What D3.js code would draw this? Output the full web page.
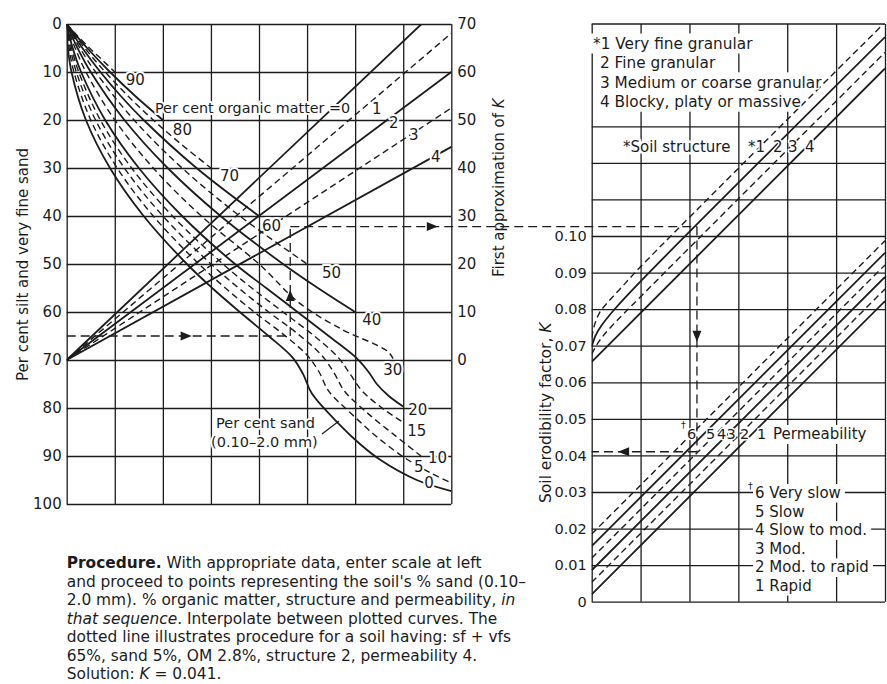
<!DOCTYPE html>
<html><head><meta charset="utf-8">
<script src="https://cdn.jsdelivr.net/npm/d3@7"></script>
<style>
body{margin:0;background:#fff;}
svg text{font-family:"DejaVu Sans",sans-serif;fill:#1c1c1c;}
</style></head><body>
<svg id="c" width="887" height="684"></svg>
<script>
// ---------------- DATA ----------------
const siltTicks = [0,10,20,30,40,50,60,70,80,90,100];
const k1Ticks = [0,10,20,30,40,50,60,70];
const kTicks = [0,0.01,0.02,0.03,0.04,0.05,0.06,0.07,0.08,0.09,0.10];
const kGrid = [0,0.01,0.02,0.03,0.04,0.05,0.06,0.07,0.08,0.09,0.10,0.11,0.12,0.13];
const leftColumns = [0,1,2,3,4,5,6,7,8];
const rightColumns = [0,1,2,3,4,5,6];

// Per cent sand curves: [column, per cent silt + vfs]
const sandValues = [90,80,70,60,50,40,30,20,15,10,5,0];
const sand90 = [[0,0],[0.18,2],[0.475,5],[0.74,7.5],[1.0,10]];
const sand80 = [[0,0],[0.164,2],[0.425,5],[0.9,10],[1.425,15],[2.0,20]];
const sand70 = [[0,0],[0.181,2.5],[0.375,5],[0.8,10],[1.275,15],[1.8,20],[2.375,25],[3.0,30]];
const sand60 = [[0,0],[0.156,2.5],[0.325,5],[0.7,10],[1.125,15],[1.6,20],[2.7,30],[4.0,40]];
const sand50 = [[0,0],[0.131,2.5],[0.275,5],[0.6,10],[1.4,20],[2.4,30],[3.6,40],[5.0,50]];
const sand40 = [[0,0],[0.106,2.5],[0.225,5],[0.5,10],[1.2,20],[2.1,30],[3.2,40],[4.5,50],[5.225,55],[6.0,60]];
const sand30 = [[0,0],[0.081,2.5],[0.175,5],[0.4,10],[1.0,20],[1.8,30],[2.8,40],[4.0,50],[4.85,58.2],[5.75,63.75],[6.45,66.9],[6.69,68.3],[6.79,69.7]];
const sand20 = [[0,0],[0.056,2.5],[0.125,5],[0.3,10],[0.8,20],[1.5,30],[2.4,40],[3.5,50],[4.15,55],[4.8,60],[5.45,65],[6.03,69.6],[6.28,72.5],[6.45,75],[6.7,77.5],[7.0,79.7]];
const sand15 = [[0,0],[0.044,2.5],[0.1,5],[0.25,10],[0.7,20],[1.35,30],[2.2,40],[3.25,50],[3.85,55],[4.5,60],[5.15,65],[5.65,69.5],[5.9,73],[6.15,76.5],[6.6,80.3],[7.0,83]];
const sand10 = [[0,0],[0.031,2.5],[0.075,5],[0.2,10],[0.6,20],[1.2,30],[2.0,40],[3.0,50],[3.575,55],[4.2,60],[4.8,64.5],[5.3,69],[5.55,72.5],[5.78,76.5],[6.25,81],[6.8,85.5],[7.37,90]];
const sand5 = [[0,0],[0.019,2.5],[0.05,5],[0.15,10],[0.5,20],[1.05,30],[1.8,40],[2.75,50],[3.3,55],[3.9,60],[4.55,65],[5.0,69],[5.25,72.5],[5.45,76.5],[5.9,81],[6.45,86],[7.05,90.5],[7.6,93.7],[8.0,95.6]];
const sand0 = [[0,0],[0.025,5],[0.1,10],[0.4,20],[0.9,30],[1.6,40],[2.5,50],[3.025,55],[3.6,60],[4.2,65],[4.7,69.5],[4.92,73],[5.1,77],[5.68,83.5],[6.1,87.5],[6.52,90.8],[7.28,95],[8.0,97.3]];
const sandCurves = [sand90,sand80,sand70,sand60,sand50,sand40,sand30,sand20,sand15,sand10,sand5,sand0];

// Per cent organic matter lines: [column, silt-scale level]
const omValues = [0,1,2,3,4];
const omOrigin = [0,70];
const omEnds = [[7.38,0],[8,1.94],[8,10],[8,17.5],[8,25.6]];

// Soil structure curves: [column, K]
const structureValues = [1,2,3,4];
const structure1 = [[0,0.0722],[0.06,0.0758],[0.16,0.0790],[0.35,0.0822],[0.6,0.0858],[1.0,0.0916],[6,0.1584]];
const structure2 = [[0,0.0697],[0.08,0.0728],[0.2,0.0755],[0.45,0.0797],[1.0,0.0876],[6,0.1544]];
const structure3 = [[0,0.0677],[0.15,0.0712],[0.4,0.0752],[1.0,0.0834],[6,0.1502]];
const structure4 = [[0,0.0656],[6,0.1458]];
const structureCurves = [structure1,structure2,structure3,structure4];

// Permeability lines: [column, K]
const permeabilityValues = [6,5,4,3,2,1];
const permeability6 = [[0,0.0185],[6,0.0987]];
const permeability5 = [[0,0.0152],[6,0.0954]];
const permeability4 = [[0,0.0119],[6,0.0921]];
const permeability3 = [[0,0.0086],[6,0.0888]];
const permeability2 = [[0,0.0053],[6,0.0855]];
const permeability1 = [[0,0.0020],[6,0.0822]];
const permeabilityCurves = [permeability6,permeability5,permeability4,permeability3,permeability2,permeability1];

// Worked example (dotted path)
const exampleSilt = 65, exampleColumn = 4.65, exampleK1 = 27.8, exampleStructureColumn = 2.153, exampleK = 0.041;

const structureLegend = ["*1 Very fine granular","2 Fine granular","3 Medium or coarse granular","4 Blocky, platy or massive"];
const permeabilityLegend = ["6 Very slow","5 Slow","4 Slow to mod.","3 Mod.","2 Mod. to rapid","1 Rapid"];

// ---------------- LAYOUT ----------------
const svg = d3.select("#c");
const xL = d3.scaleLinear().domain([0,8]).range([66.7,451.3]);
const yL = d3.scaleLinear().domain([0,100]).range([24,504]);
const yK1 = d3.scaleLinear().domain([0,70]).range([360,24]);
const xR = d3.scaleLinear().domain([0,6]).range([591.7,885]);
const yR = d3.scaleLinear().domain([0,0.10]).range([601.7,236]);
const topY = 24;
const INK = "#1c1c1c";
const FONT = '"DejaVu Sans",sans-serif';

const defs = svg.append("defs");
defs.append("clipPath").attr("id","clipL").append("rect")
  .attr("x",xL(0)).attr("y",yL(0)).attr("width",xL(8)-xL(0)).attr("height",yL(100)-yL(0));
defs.append("clipPath").attr("id","clipR").append("rect")
  .attr("x",xR(0)).attr("y",topY).attr("width",xR(6)-xR(0)).attr("height",yR(0)-topY);

function styleAxis(g, size){
  g.select(".domain").remove();
  g.selectAll("line").attr("stroke",INK).attr("stroke-width",1.3);
  g.selectAll("text").attr("font-size",size).attr("fill",INK).attr("font-family",FONT);
}

// ---- left panel grid
svg.append("g").attr("transform",`translate(${xL(0)},0)`)
  .call(d3.axisLeft(yL).tickValues(siltTicks).tickSize(-(xL(8)-xL(0))).tickPadding(5))
  .call(g=>styleAxis(g,15));
svg.append("g").attr("transform",`translate(0,${yL(100)})`)
  .call(d3.axisBottom(xL).tickValues(leftColumns).tickSize(-(yL(100)-yL(0))).tickFormat(""))
  .call(g=>styleAxis(g,15));
svg.append("g").attr("transform",`translate(${xL(8)},0)`)
  .call(d3.axisRight(yK1).tickValues(k1Ticks).tickSize(0).tickPadding(6))
  .call(g=>styleAxis(g,15));

// ---- right panel grid
svg.append("g").attr("transform",`translate(${xR(0)},0)`)
  .call(d3.axisLeft(yR).tickValues(kGrid).tickSize(-(xR(6)-xR(0))).tickFormat(""))
  .call(g=>styleAxis(g,15));
svg.append("g").attr("transform",`translate(${xR(0)},0)`)
  .call(d3.axisLeft(yR).tickValues(kTicks).tickSize(0).tickPadding(5)
        .tickFormat(d=> d===0 ? "0" : d3.format(".2f")(d)))
  .call(g=>styleAxis(g,14.5));
svg.append("g").attr("transform",`translate(0,${yR(0)})`)
  .call(d3.axisBottom(xR).tickValues(rightColumns).tickSize(-(yR(0)-topY)).tickFormat(""))
  .call(g=>styleAxis(g,15));
svg.append("line").attr("x1",xR(0)).attr("x2",xR(6)).attr("y1",topY).attr("y2",topY)
  .attr("stroke",INK).attr("stroke-width",1.3);

// background layer for legend boxes (below curves)
const bgLayer = svg.append("g");

// ---- curves
const lineL = d3.line().x(d=>xL(d[0])).y(d=>yL(d[1])).curve(d3.curveCatmullRom.alpha(0.5));
const lineR = d3.line().x(d=>xR(d[0])).y(d=>yR(d[1])).curve(d3.curveCatmullRom.alpha(0.5));
const solidW = 1.8, dashW = 1.4, dashArr = "6.5,4";

const gL = svg.append("g").attr("clip-path","url(#clipL)");
sandCurves.forEach((c,i)=>{
  const solid = sandValues[i] % 20 === 0;
  gL.append("path").attr("d",lineL(c)).attr("fill","none").attr("stroke",INK)
    .attr("stroke-width",solid?solidW:dashW).attr("stroke-dasharray",solid?null:dashArr);
});
omValues.forEach((v,i)=>{
  const solid = v % 2 === 0;
  gL.append("path").attr("d",d3.line().x(d=>xL(d[0])).y(d=>yL(d[1]))([omOrigin,omEnds[i]]))
    .attr("fill","none").attr("stroke",INK)
    .attr("stroke-width",solid?solidW:dashW).attr("stroke-dasharray",solid?null:dashArr);
});

const gR = svg.append("g").attr("clip-path","url(#clipR)");
structureCurves.forEach((c,i)=>{
  const solid = structureValues[i] % 2 === 0;
  gR.append("path").attr("d",lineR(c)).attr("fill","none").attr("stroke",INK)
    .attr("stroke-width",solid?solidW:dashW).attr("stroke-dasharray",solid?null:dashArr);
});
permeabilityCurves.forEach((c,i)=>{
  const solid = permeabilityValues[i] % 2 === 1;
  gR.append("path").attr("d",lineR(c)).attr("fill","none").attr("stroke",INK)
    .attr("stroke-width",solid?solidW:dashW).attr("stroke-dasharray",solid?null:dashArr);
});

// ---- text helper with white halo
function label(x,y,str,opts={}){
  const t = svg.append("text").attr("x",x).attr("y",y)
    .attr("font-size",opts.size||15).attr("fill",INK).attr("font-family",FONT)
    .attr("text-anchor",opts.anchor||"start");
  if(opts.halo!==false){
    t.attr("stroke","#fff").attr("stroke-width",opts.haloW||5)
     .attr("stroke-linejoin","round").attr("paint-order","stroke");
  }
  if(opts.italic) t.attr("font-style","italic");
  if(opts.bold) t.attr("font-weight","bold");
  if(opts.rotate) t.attr("transform",`rotate(${opts.rotate},${x},${y})`);
  t.text(str);
  return t;
}
function boxBehind(t, top, bottom, padL, padR){
  const b = t.node().getBBox();
  bgLayer.append("rect").attr("x",b.x-padL).attr("width",b.width+padL+padR)
    .attr("y",+t.attr("y")-top).attr("height",top+bottom).attr("fill","#fff");
}

// sand labels
const sandLabelOffsets = {90:[-1,11,13],80:[-1,10,15],70:[-1,9,13],60:[-1,3,15],50:[-1,15,14],40:[-1,7,13],
  30:[-1,-10,16],20:[-1,5,8],15:[-1,4,14],10:[-1,7,7],5:[17,-18,-2],0:[-1,-27,-3]};
sandValues.forEach((v,i)=>{
  const o = sandLabelOffsets[v];
  const p = o[0] < 0 ? sandCurves[i][sandCurves[i].length-1] : sandCurves[i][o[0]];
  label(xL(p[0])+o[1], yL(p[1])+o[2], String(v), {size:15, haloW:4});
});
label(216,428,"Per cent sand",{size:14.5,haloW:4});
label(211,447,"(0.10–2.0 mm)",{size:14.5,haloW:4});
svg.append("line").attr("x1",322).attr("y1",434).attr("x2",339).attr("y2",421)
  .attr("stroke",INK).attr("stroke-width",1.2);

// OM labels
label(155,113,"Per cent organic matter =0",{size:14.3,haloW:4});
label(372,114,"1",{size:15,haloW:4});
label(389,128,"2",{size:15,haloW:4});
label(409,140,"3",{size:15,haloW:4});
label(431,162,"4",{size:15,haloW:4});

// axis titles
label(28,381,"Per cent silt and very fine sand",{size:15,rotate:-90,halo:false});
const ft = label(504,277,"First approximation of ",{size:15,rotate:-90,halo:false});
ft.append("tspan").attr("font-style","italic").text("K");
const st = label(551,503,"Soil erodibility factor, ",{size:15.5,rotate:-90,halo:false});
st.append("tspan").attr("font-style","italic").text("K");

// structure legend
structureLegend.forEach((s,i)=>{
  const t = label(i===0?593:600, 49+i*19.4, s, {size:15.3, haloW:3});
  boxBehind(t, 15.5, 4.5, 2, 3);
});
label(623,152,"*Soil structure",{size:15,haloW:5});
label(748,152,"*1",{size:15,haloW:3});
label(773,152,"2",{size:15,haloW:3});
label(788,152,"3",{size:15,haloW:3});
label(805,152,"4",{size:15,haloW:3});

// permeability labels
const permLabelX = [687,706,717,726.5,740,757];
permeabilityValues.forEach((v,i)=> label(permLabelX[i],439,String(v),{size:14.5,haloW:3}));
label(681,428,"†",{size:9.5,haloW:2});
const pl = label(773,439,"Permeability",{size:15,haloW:4});
boxBehind(pl, 14, 5, 1, 2);
permeabilityLegend.forEach((s,i)=>{
  const t = label(755, 498+i*18.6, s, {size:15, haloW:3});
  boxBehind(t, 14, 4.6, 2, 4);
});
label(748,489,"†",{size:9.5,haloW:2});

// ---- worked example dashed path with arrows
const exDash = "9,5";
function dashed(x1,y1,x2,y2){
  svg.append("line").attr("x1",x1).attr("y1",y1).attr("x2",x2).attr("y2",y2)
    .attr("stroke",INK).attr("stroke-width",1.3).attr("stroke-dasharray",exDash);
}
function arrowHead(x,y,dir){
  const L=11,H=4.5; let p;
  if(dir==="right") p=[[x,y],[x-L,y-H],[x-L,y+H]];
  if(dir==="left") p=[[x,y],[x+L,y-H],[x+L,y+H]];
  if(dir==="up") p=[[x,y],[x-H,y+L],[x+H,y+L]];
  if(dir==="down") p=[[x,y],[x-H,y-L],[x+H,y-L]];
  svg.append("path").attr("d",d3.line()(p)+"Z").attr("fill",INK);
}
const ex1y = yL(exampleSilt), ex1x = xL(exampleColumn), ex2y = yK1(exampleK1);
const ex3x = xR(exampleStructureColumn), ex4y = yR(exampleK);
dashed(xL(0),ex1y,ex1x,ex1y);
dashed(ex1x,ex1y,ex1x,ex2y);
dashed(ex1x,ex2y,ex3x,ex2y);
dashed(ex3x,ex2y,ex3x,ex4y);
dashed(ex3x,ex4y,xR(0),ex4y);
arrowHead(xL(2.6),ex1y,"right");
arrowHead(ex1x,yL(55.4),"up");
arrowHead(xL(7.72),ex2y,"right");
arrowHead(ex3x,yR(0.0711),"down");
arrowHead(xR(0.54),ex4y,"left");

// ---- procedure text
const procLines = [
  [["Procedure.","b"],[" With appropriate data, enter scale at left",""]],
  [["and proceed to points representing the soil's % sand (0.10–",""]],
  [["2.0 mm). % organic matter, structure and permeability, ",""],["in","i"]],
  [["that sequence","i"],[". Interpolate between plotted curves. The",""]],
  [["dotted line illustrates procedure for a soil having: sf + vfs",""]],
  [["65%, sand 5%, OM 2.8%, structure 2, permeability 4.",""]],
  [["Solution: ",""],["K","i"],[" = 0.041.",""]]
];
const procTexts = procLines.map((parts,i)=>{
  const t = svg.append("text").attr("x",66.7).attr("y",568+i*18.5).attr("font-size",14)
    .attr("fill",INK).attr("font-family",FONT).attr("xml:space","preserve");
  parts.forEach(([s,st])=>{
    const ts = t.append("tspan").text(s);
    if(st==="b") ts.attr("font-weight","bold");
    if(st==="i") ts.attr("font-style","italic");
  });
  return t;
});
const L2 = procTexts[1].node().getComputedTextLength();
const fs = Math.min(15.5, 14*460/L2);
procTexts.forEach(t=>t.attr("font-size",fs));
</script>
</body></html>
